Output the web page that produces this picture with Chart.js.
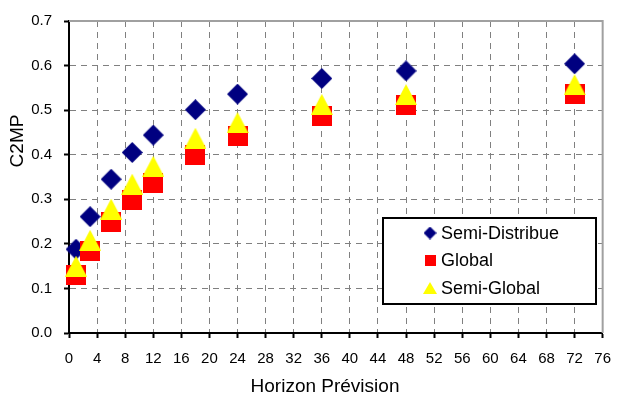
<!DOCTYPE html>
<html>
<head>
<meta charset="utf-8">
<script src="https://cdn.jsdelivr.net/npm/chart.js@4/dist/chart.umd.min.js"></script>
<style>
  html, body { margin: 0; padding: 0; background: #fff; }
  #wrap { width: 623px; height: 401px; }
</style>
</head>
<body>
<div id="wrap"><canvas id="c" width="623" height="401"></canvas></div>
<script>
// Forecast horizons (x) and C2MP scores for each model variant
const horizons = [1, 3, 6, 9, 12, 18, 24, 36, 48, 72];
const semiDistribue = [0.188, 0.261, 0.345, 0.405, 0.444, 0.501, 0.536, 0.571, 0.588, 0.604];
const globalScores = [0.130, 0.183, 0.248, 0.299, 0.337, 0.399, 0.443, 0.486, 0.512, 0.537];
const semiGlobal = [0.150, 0.208, 0.278, 0.334, 0.374, 0.437, 0.472, 0.513, 0.535, 0.557];
const seriesNames = ['Semi-Distribue', 'Global', 'Semi-Global'];

// Axis ranges and tick steps
const xRange = [0, 76];
const xStep = 4;
const yRange = [0, 0.7];
const yStep = 0.1;
const xTitle = 'Horizon Prévision';
const yTitle = 'C2MP';

const FONT = "'Liberation Sans', Arial, sans-serif";

// Marker bitmaps, centred on the point by Chart.js
function marker(shape, w, h, color) {
  const c = document.createElement('canvas');
  c.width = w; c.height = h;
  const g = c.getContext('2d');
  g.fillStyle = color;
  g.beginPath();
  if (shape === 'diamond') {
    g.moveTo(w / 2, 0); g.lineTo(w, h / 2); g.lineTo(w / 2, h); g.lineTo(0, h / 2);
  } else if (shape === 'triangle') {
    g.moveTo(w / 2, 0); g.lineTo(w, h); g.lineTo(0, h);
  } else {
    g.rect(0, 0, w, h);
  }
  g.closePath();
  g.fill();
  return c;
}

const styles = [
  { big: marker('diamond', 21, 21, '#000080'), small: marker('diamond', 13, 13, '#000080') },
  { big: marker('square', 20, 20, '#ff0000'), small: marker('square', 11, 11, '#ff0000') },
  { big: marker('triangle', 22, 21, '#ffff00'), small: marker('triangle', 14, 12, '#ffff00') }
];

const seriesValues = [semiDistribue, globalScores, semiGlobal];
const datasets = seriesValues.map((vals, k) => ({
  label: seriesNames[k],
  data: horizons.map((h, i) => ({ x: h, y: vals[i] })),
  pointStyle: styles[k].big,
  pointRadius: 10,
  showLine: false,
  clip: false,
  order: 2 - k
}));

const background = {
  id: 'background',
  beforeDraw(chart) {
    const ctx = chart.ctx;
    ctx.save();
    ctx.fillStyle = '#fff';
    ctx.fillRect(0, 0, chart.width, chart.height);
    ctx.restore();
  }
};

// Grey plot-area frame on the top and right sides
const frame = {
  id: 'frame',
  beforeDatasetsDraw(chart) {
    const { ctx, chartArea: a } = chart;
    ctx.save();
    ctx.strokeStyle = '#a0a0a0';
    ctx.lineWidth = 2;
    ctx.beginPath();
    ctx.moveTo(a.left, a.top);
    ctx.lineTo(a.right, a.top);
    ctx.lineTo(a.right, a.bottom);
    ctx.stroke();
    ctx.restore();
  }
};

// Axis titles and boxed legend
const annotations = {
  id: 'annotations',
  afterDraw(chart) {
    const ctx = chart.ctx;
    ctx.save();
    ctx.fillStyle = '#000';
    ctx.font = '19px ' + FONT;
    ctx.textAlign = 'center';
    ctx.textBaseline = 'middle';
    ctx.fillText(xTitle, 325, 387);
    ctx.save();
    ctx.translate(18, 141);
    ctx.rotate(-Math.PI / 2);
    ctx.fillText(yTitle, 0, 0);
    ctx.restore();

    // legend box
    const box = { x: 382, y: 217, w: 215, h: 88 };
    ctx.fillStyle = '#fff';
    ctx.fillRect(box.x, box.y, box.w, box.h);
    ctx.strokeStyle = '#000';
    ctx.lineWidth = 2;
    ctx.strokeRect(box.x + 1, box.y + 1, box.w - 2, box.h - 2);

    const rows = [233, 260, 288];
    ctx.font = '18px ' + FONT;
    ctx.textAlign = 'left';
    ctx.fillStyle = '#000';
    chart.data.datasets.forEach((ds, k) => {
      const img = styles[k].small;
      ctx.drawImage(img, 430 - img.width / 2, rows[k] - img.height / 2);
      ctx.fillText(ds.label, 441, rows[k] + 1);
    });
    ctx.restore();
  }
};

const gridColor = '#808080';

new Chart(document.getElementById('c'), {
  type: 'scatter',
  data: { datasets },
  options: {
    responsive: false,
    animation: false,
    devicePixelRatio: 1,
    layout: { padding: { top: 12, right: 11, left: 0, bottom: 0 } },
    plugins: { legend: { display: false }, tooltip: { enabled: false } },
    scales: {
      x: {
        type: 'linear',
        min: xRange[0],
        max: xRange[1],
        ticks: {
          stepSize: xStep,
          autoSkip: false,
          maxRotation: 0,
          color: '#000',
          padding: 12,
          font: { family: FONT, size: 15 }
        },
        grid: {
          color: c => (c.tick && c.tick.value === xRange[1]) ? 'rgba(0,0,0,0)' : gridColor,
          lineWidth: 1,
          tickColor: '#000',
          tickLength: 5,
          tickWidth: 2,
          tickBorderDash: []
        },
        border: { color: '#000', width: 2, dash: [6, 5] },
        afterFit(s) { s.height = 68; }
      },
      y: {
        type: 'linear',
        min: yRange[0],
        max: yRange[1],
        ticks: {
          stepSize: yStep,
          color: '#000',
          padding: 12,
          font: { family: FONT, size: 15 },
          callback: v => Number(v).toFixed(1)
        },
        grid: {
          color: c => (c.tick && Math.abs(c.tick.value - yRange[1]) < 1e-9) ? 'rgba(0,0,0,0)' : gridColor,
          lineWidth: 1,
          tickColor: '#000',
          tickLength: 5,
          tickWidth: 2,
          tickBorderDash: []
        },
        border: { color: '#000', width: 2, dash: [6, 5] },
        afterFit(s) { s.width = 69; }
      }
    }
  },
  plugins: [background, frame, annotations]
});
</script>
</body>
</html>
